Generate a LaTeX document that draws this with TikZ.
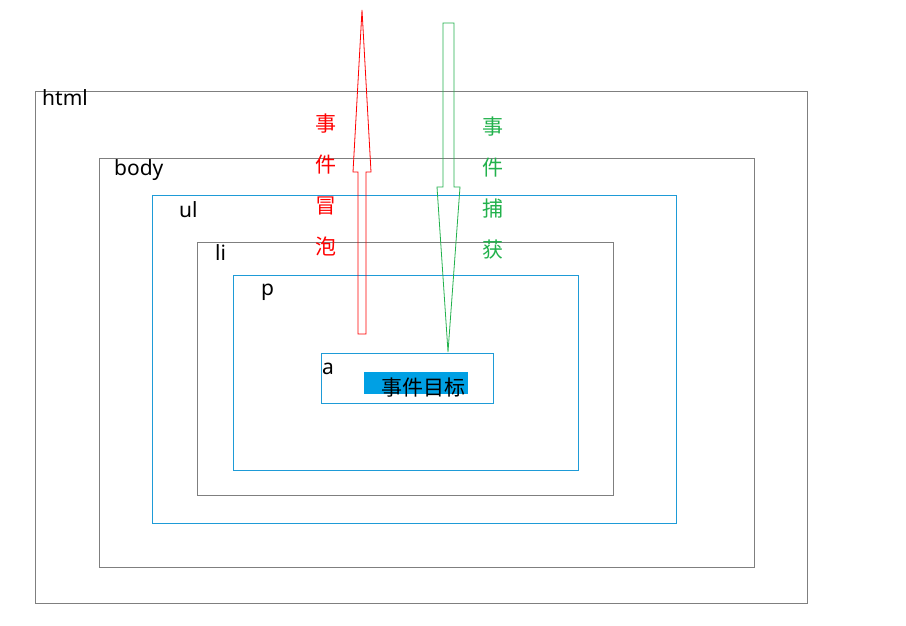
\documentclass[tikz,border=0pt]{standalone}
\usepackage{fontspec}
\setmainfont{Noto Sans}
\newfontfamily\cjk{Noto Sans CJK SC}
\definecolor{bx}{HTML}{7F7F7F}
\definecolor{bl}{HTML}{1E9BD7}
\definecolor{hl}{HTML}{00A0E4}
\definecolor{gr}{HTML}{22B14C}
\begin{document}
\begin{tikzpicture}[x=1pt,y=-1pt,
  gbox/.style={draw=bx,line width=0.8pt},
  bbox/.style={draw=bl,line width=0.8pt},
  lab/.style={anchor=west,inner sep=0pt,font=\fontsize{21}{21}\selectfont},
  vlab/.style={inner sep=0pt,align=center,font=\cjk\fontsize{21}{41}\selectfont}]
\useasboundingbox (0,0) rectangle (906,626);
\draw[gbox] (35,91) rectangle (807,603);
\draw[gbox] (99,158) rectangle (754,567);
\draw[bbox] (152,195) rectangle (676,523);
\draw[gbox] (197,242) rectangle (613,495);
\draw[bbox] (233,275) rectangle (578,470);
\draw[bbox] (321,353) rectangle (493,403);
\node[lab] (thtml) at (42,98) {html};
\node[lab] (tbody) at (114,170) {body};
\node[lab] (tul) at (179,210) {ul};
\node[lab] (tli) at (215,253) {li};
\node[lab] (tp) at (261,292) {p};
\node[lab] (ta) at (322,369) {a};
\fill[hl] (364,372) rectangle (468,394);
\node[inner sep=0pt,font=\cjk\fontsize{21}{21}\selectfont] (target) at (423,388) {事件目标};
\draw[red,line width=0.8pt] (358,334) -- (358,172) -- (353,172) -- (362,10) -- (371,172) -- (366,172) -- (366,334) -- cycle;
\draw[gr,line width=0.8pt] (443,23) -- (443,187) -- (437,187) -- (448,352) -- (460,187) -- (454,187) -- (454,23) -- cycle;
\node[vlab,text=red] (bub) at (326,185) {事\\件\\冒\\泡};
\node[vlab,text=gr] (cap) at (493,188) {事\\件\\捕\\获};
\end{tikzpicture}
\end{document}
